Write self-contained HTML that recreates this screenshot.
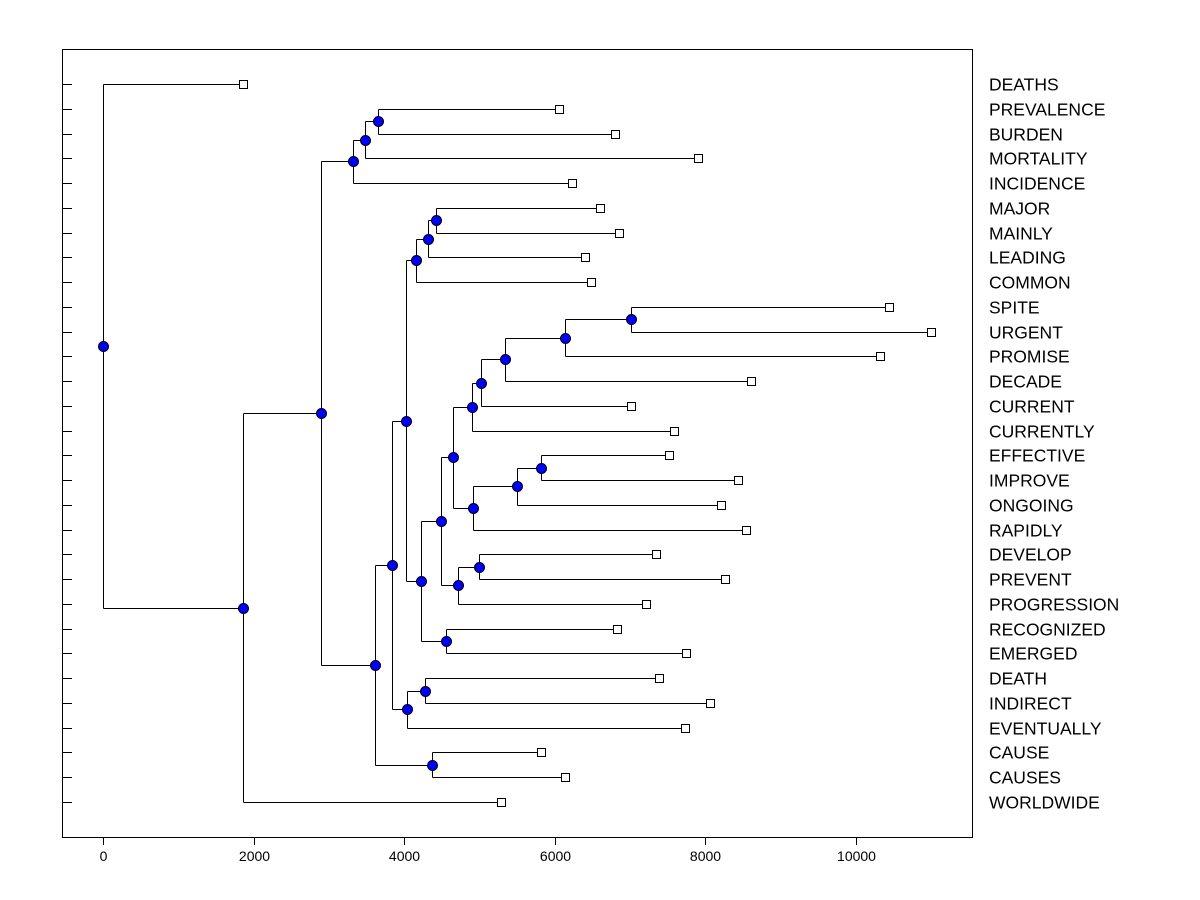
<!DOCTYPE html>
<html><head><meta charset="utf-8"><style>
html,body{margin:0;padding:0;background:#fff;}
svg{display:block;font-family:"Liberation Sans",Arial,sans-serif;}
</style></head><body>
<svg id="chart" width="1200" height="900"></svg>
<script>
const leaves = ["DEATHS","PREVALENCE","BURDEN","MORTALITY","INCIDENCE","MAJOR","MAINLY","LEADING","COMMON","SPITE","URGENT","PROMISE","DECADE","CURRENT","CURRENTLY","EFFECTIVE","IMPROVE","ONGOING","RAPIDLY","DEVELOP","PREVENT","PROGRESSION","RECOGNIZED","EMERGED","DEATH","INDIRECT","EVENTUALLY","CAUSE","CAUSES","WORLDWIDE"];
const leafValues = [1860,6060,6800,7907,6233,6605,6857,6405,6485,10445,11003,10326,8611,7017,7588,7522,8439,8213,8545,7349,8266,7216,6831,7748,7389,8066,7734,5821,6140,5289];
// merges: [id, childA, childB, height]
const merges = [
 ["F","PREVALENCE","BURDEN",3654],
 ["E","F","MORTALITY",3482],
 ["C","E","INCIDENCE",3322],
 ["M","MAJOR","MAINLY",4425],
 ["L","M","LEADING",4319],
 ["J","L","COMMON",4159],
 ["W","SPITE","URGENT",7017],
 ["V","W","PROMISE",6140],
 ["U","V","DECADE",5342],
 ["T","U","CURRENT",5023],
 ["R","T","CURRENTLY",4904],
 ["Y","EFFECTIVE","IMPROVE",5821],
 ["X","Y","ONGOING",5502],
 ["S","X","RAPIDLY",4917],
 ["P","R","S",4651],
 ["Z","DEVELOP","PREVENT",4997],
 ["Q","Z","PROGRESSION",4718],
 ["N","P","Q",4492],
 ["O","RECOGNIZED","EMERGED",4558],
 ["K","N","O",4226],
 ["H","J","K",4027],
 ["AA","DEATH","INDIRECT",4279],
 ["I","AA","EVENTUALLY",4040],
 ["G","H","I",3841],
 ["CC","CAUSE","CAUSES",4372],
 ["D","G","CC",3615],
 ["B","C","D",2897],
 ["A","B","WORLDWIDE",1860],
 ["ROOT","DEATHS","A",0]
];
const xTicks = [0,2000,4000,6000,8000,10000];

const NS="http://www.w3.org/2000/svg";
const svg=document.getElementById('chart');
const X0=62,X1=972,Y0=49,Y1=837;
const xScale=v=>103+v*0.07525;
const yScale=i=>84+i*(802-84)/(leaves.length-1);
function mk(tag,attrs){const e=document.createElementNS(NS,tag);for(const k in attrs)e.setAttribute(k,attrs[k]);svg.appendChild(e);return e;}

const frame=mk('rect',{x:X0+0.5,y:Y0+0.5,width:X1-X0,height:Y1-Y0,fill:'none',stroke:'#000'});



xTicks.forEach(t=>{
  const x=Math.round(xScale(t))+0.5;
  const tk=mk('line',{x1:x,y1:Y1,x2:x,y2:Y1+8,stroke:'#000'});
  
  
  const tl=mk('text',{x:x,y:861,'text-anchor':'middle','font-size':14});
  tl.textContent=t;
  
  
});

const pos={};
leaves.forEach((n,i)=>{pos[n]={x:xScale(leafValues[i]),y:yScale(i),leaf:true};});
merges.forEach(m=>{
  const a=pos[m[1]],b=pos[m[2]],px=xScale(m[3]);
  pos[m[0]]={x:px,y:(a.y+b.y)/2,leaf:false};
});

leaves.forEach((n,i)=>{
  const y=Math.round(yScale(i))+0.5;
  const tk=mk('line',{x1:X0,y1:y,x2:X0+10,y2:y,stroke:'#000'});
  
  
  const lb=mk('text',{x:989,y:y+6,'font-size':17.5});
  lb.textContent=n;
  
  
});

merges.forEach(m=>{
  const p=pos[m[0]],px=Math.round(p.x)+0.5;
  [m[1],m[2]].forEach(c=>{
    const ch=pos[c],cy=Math.round(ch.y)+0.5;
    const hl=mk('line',{x1:px,y1:cy,x2:Math.round(ch.x)+0.5,y2:cy,stroke:'#000'});
    
    
  });
  const vl=mk('line',{x1:px,y1:Math.round(pos[m[1]].y)+0.5,x2:px,y2:Math.round(pos[m[2]].y)+0.5,stroke:'#000'});
  
  
});

leaves.forEach(n=>{
  const p=pos[n];
  const sq=mk('rect',{x:Math.round(p.x)-3.5,y:Math.round(p.y)-3.5,width:8,height:8,fill:'#fff',stroke:'#000'});
  
  
});
merges.forEach(m=>{
  const p=pos[m[0]];
  const c=mk('circle',{cx:Math.round(p.x)+0.5,cy:Math.round(p.y)+0.5,r:5,fill:'#0000ff',stroke:'#000'});
  
  
});
</script>
</body></html>
